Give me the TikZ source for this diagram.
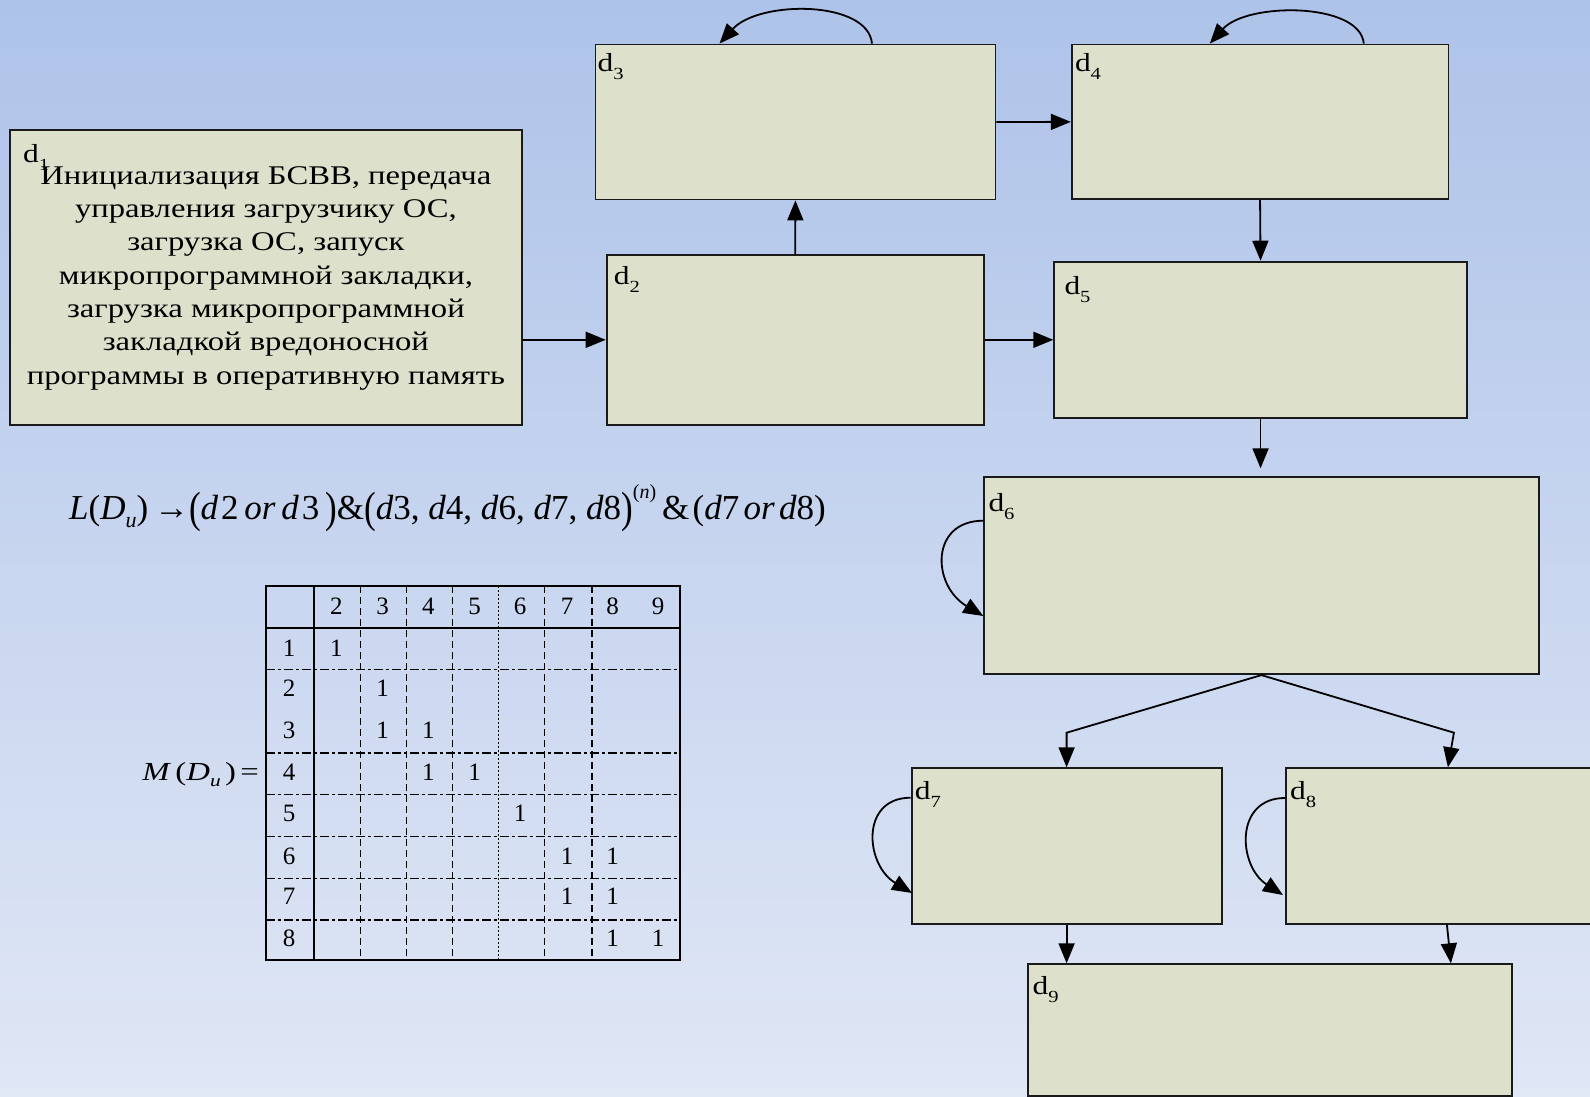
\documentclass[tikz,border=0pt]{standalone}
\usepackage{fontspec}
\setmainfont{Liberation Serif}
\newfontfamily\wf[FakeStretch=1.21]{Liberation Serif}
\newfontfamily\wfm[FakeStretch=1.26]{Liberation Serif}
\usepackage{graphicx}
\usetikzlibrary{arrows.meta,calc}
\definecolor{boxfill}{HTML}{DDE1CB}
\definecolor{bgtop}{HTML}{AEC3E9}
\definecolor{bgbot}{HTML}{E0E7F5}
\definecolor{edge}{HTML}{1A1A1A}
\newcommand{\myBL}{\raisebox{-0.1em}{\scalebox{1}[1.25]{(}}}
\newcommand{\myBR}{\raisebox{-0.1em}{\scalebox{1}[1.25]{)}}}
\newcommand{\dl}[1]{d\raisebox{-8pt}{\fontsize{17}{17}\selectfont #1}}
\begin{document}
\begin{tikzpicture}[x=1pt,y=-1pt,
 blk/.style={draw=edge,line width=1.8pt,fill=boxfill,inner sep=0pt,anchor=north west},
 conn/.style={draw=black,line width=1.8pt,-{Triangle[length=20pt,width=16pt]}},
 dlab/.style={anchor=north west,inner sep=0pt,font=\wf\fontsize{26}{28}\selectfont},
 cell/.style={inner sep=0pt,font=\fontsize{25}{27}\selectfont},
 tsolid/.style={line width=1.6pt},
 tdash/.style={line width=1.3pt,dash pattern=on 7pt off 4pt},
 tdot/.style={line width=1.3pt,dash pattern=on 1.5pt off 2.5pt},
 tdashdot/.style={line width=1.3pt,dash pattern=on 9pt off 3pt on 3pt off 3pt},
]
\useasboundingbox (0,0) rectangle (1590,1097);
\clip (0,0) rectangle (1590,1097);
\fill[top color=bgtop,bottom color=bgbot] (0,0) rectangle (1590,1097);

% boxes
\node[blk,minimum width=512pt,minimum height=295pt] (d1) at (9,128.8) {};
\node[blk,minimum width=377.3pt,minimum height=169.8pt] (d2) at (605.7,254) {};
\node[blk,minimum width=400pt,minimum height=155pt] (d3) at (594.5,43.6) {};
\node[blk,minimum width=376.7pt,minimum height=154.7pt] (d4) at (1070.8,43.6) {};
\node[blk,minimum width=412.7pt,minimum height=156pt] (d5) at (1053.3,260.7) {};
\node[blk,minimum width=554.4pt,minimum height=197pt] (d6) at (983.3,476.3) {};
\node[blk,minimum width=310pt,minimum height=155.4pt] (d7) at (910.7,767.3) {};
\node[blk,minimum width=324pt,minimum height=155.4pt] (d8) at (1285,767.3) {};
\node[blk,minimum width=484pt,minimum height=131.7pt] (d9) at (1026.7,963.3) {};

% labels
\node[dlab] (l1) at ([shift={(14pt,-15pt)}]d1.north west) {\dl{1}};
\node[dlab] (l2) at ([shift={(8pt,-12.7pt)}]d2.north west) {\dl{2}};
\node[dlab] (l3) at ([shift={(3pt,-9.4pt)}]d3.north west) {\dl{3}};
\node[dlab] (l4) at ([shift={(4pt,-9.7pt)}]d4.north west) {\dl{4}};
\node[dlab] (l5) at ([shift={(11pt,-16pt)}]d5.north west) {\dl{5}};
\node[dlab] (l6) at ([shift={(5pt,-17pt)}]d6.north west) {\dl{6}};
\node[dlab] (l7) at ([shift={(4pt,-14.4pt)}]d7.north west) {\dl{7}};
\node[dlab] (l8) at ([shift={(5pt,-14pt)}]d8.north west) {\dl{8}};
\node[dlab] (l9) at ([shift={(5.7pt,-13.4pt)}]d9.north west) {\dl{9}};

% d1 text
\node[align=center,inner sep=0pt,font=\wf\fontsize{27}{33.3}\selectfont] (t1) at ([yshift=-1pt]d1.center)
 {Инициализация БСВВ, передача\\управления загрузчику ОС,\\загрузка ОС, запуск\\микропрограммной закладки,\\загрузка микропрограммной\\закладкой вредоносной\\программы в оперативную память};

% connectors
\draw[conn] (d1.east |- d2.west) -- (d2.west);
\draw[conn] (d2.east) -- (d2.east -| d5.west);
\draw[conn] (d2.north) -- (d3.south);
\draw[conn] (d3.east) -- (d4.west);
\draw[conn] (d4.south) -- (d5.north);
\draw[conn] (d5.south) -- ([yshift=8pt]d5.south |- d6.north);
\draw[conn] (d6.south) -- ([yshift=34.6pt]d7.north) -- (d7.north);
\draw[conn] (d6.south) -- ([xshift=6pt,yshift=34.6pt]d8.north) -- (d8.north);
\draw[conn] (d7.south) -- (d7.south |- d9.north);
\draw[conn] ([xshift=-1pt]d8.south) -- ([xshift=3pt]d8.south |- d9.north);

% self loops
\draw[conn] ([xshift=277.5pt]d3.north west) .. controls (868,0) and (759,0) .. ([xshift=125pt]d3.north west);
\draw[conn] ([xshift=293pt]d4.north west) .. controls (1360,2) and (1247,2) .. ([xshift=139pt]d4.north west);
\draw[conn] ([yshift=-44.4pt]d6.north west) .. controls (930,520.7) and (931.6,585.2) .. ([yshift=-139.7pt]d6.north west);
\draw[conn] ([yshift=-30.4pt]d7.north west) .. controls (860,797.7) and (865,864.7) .. ([shift={(1.3pt,-125.7pt)}]d7.north west);
\draw[conn] ([yshift=-30.7pt]d8.north west) .. controls (1234,798) and (1238,866) .. ([shift={(-2pt,-127.7pt)}]d8.north west);

% formula
\node[anchor=base west,inner sep=0pt,font=\fontsize{35}{40}\selectfont] (lf) at (69,519)
 {\textit{L}(\textit{D}\raisebox{-0.25em}{\fontsize{22}{22}\selectfont\textit{u}})\,→\myBL\textit{d}\kern0.08em2\,\textit{or}\,\textit{d}\kern0.08em3\,\myBR\&\myBL\textit{d}3, \textit{d}4, \textit{d}6, \textit{d}7, \textit{d}8\myBR\raisebox{0.6em}{\fontsize{20}{20}\selectfont(\textit{n})}\,\&\kern0.1em(\textit{d}7\kern0.12em\textit{or}\kern0.12em\textit{d}8)};

% matrix label
\node[anchor=base east,inner sep=0pt,font=\wfm\fontsize{26}{28}\selectfont] (mf) at (259,780)
 {\textit{M}\,(\textit{D}\raisebox{-0.25em}{\fontsize{17}{17}\selectfont\textit{u}}\,)\,=};

% table lines
\foreach \y in {669.3,753,794.7,836.7,878.3,920} \draw[tdashdot] (266.2,\y) -- (680,\y);
\foreach \x in {360.7,406.2,452.7,544.7,592} \draw[tdash] (\x,586) -- (\x,960);
\draw[tdot] (498.2,586) -- (498.2,960);
\draw[tsolid] (266.2,627.7) -- (680,627.7);
\draw[tsolid] (313.8,586) -- (313.8,960);
\draw[tsolid] (266.2,586) rectangle (680,960);

% table text
\foreach \x/\t [count=\i] in {336.4/2,382.5/3,428.4/4,474.5/5,520/6,567/7,612.7/8,658/9}
  \node[cell] (h\i) at (\x,606.7) {\t};
\foreach \y/\t in {648/1,688/2,730/3,772.7/4,813/5,856/6,896.7/7,938/8}
  \node[cell] (r\t) at (289,\y) {\t};
\foreach \x/\y [count=\i] in {336.4/648,382.5/688,382.5/730,428.4/730,428.4/772.7,474.5/772.7,520/813,567/856,612.7/856,567/896.7,612.7/896.7,612.7/938,658/938}
  \node[cell] (o\i) at (\x,\y) {1};
\end{tikzpicture}
\end{document}
